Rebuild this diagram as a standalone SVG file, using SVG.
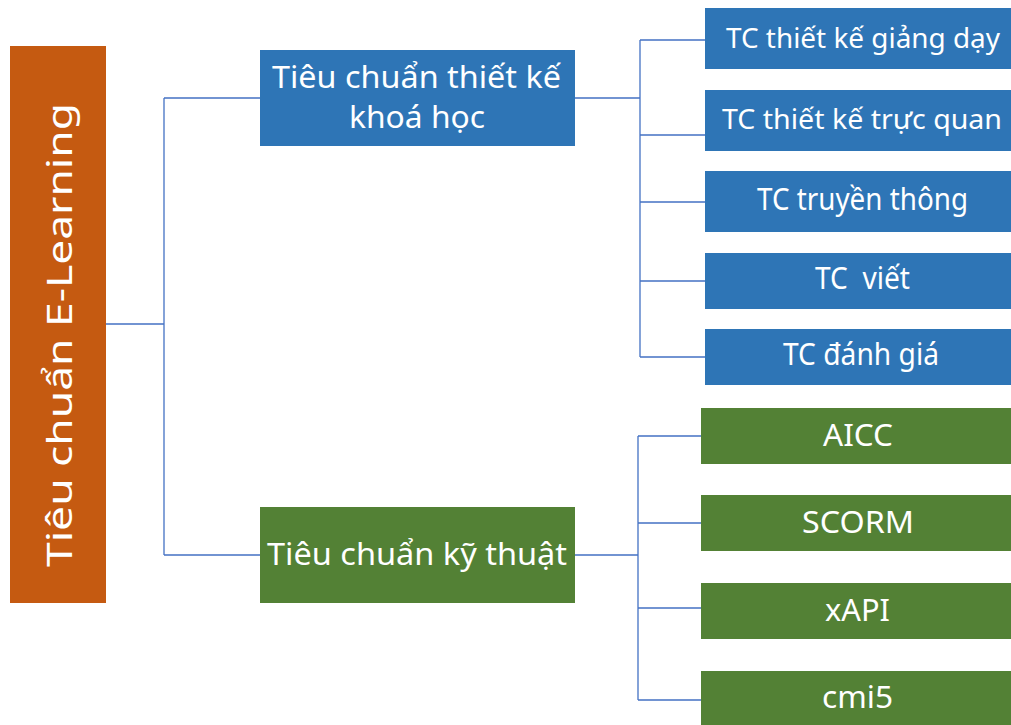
<svg xmlns="http://www.w3.org/2000/svg" width="1011" height="725" viewBox="0 0 1011 725">
<style>
.t{font-family:"Noto Sans","Open Sans","DejaVu Sans",sans-serif;font-size:30.5px;fill:#ffffff}
.s{font-size:27.5px}
.r{font-size:34px}
.blue{fill:#2E75B6}
.green{fill:#538135}
.orange{fill:#C55A11}
.conn{fill:none;stroke:#4472C4;stroke-width:1.3}
</style>
<rect x="0" y="0" width="1011" height="725" fill="#ffffff"/>
<g id="connectors">
<path class="conn" d="M106,324 H164 M164,98 V555 M164,98 H260 M164,555 H260"/>
<path class="conn" d="M575,98 H640 M640,40 V357 M640,40 H705 M640,135 H705 M640,202 H705 M640,281 H705 M640,357 H705"/>
<path class="conn" d="M575,555 H638 M638,436 V700 M638,436 H701 M638,523 H701 M638,608 H701 M638,700 H701"/>
</g>
<g id="root">
<rect class="orange" x="10" y="46" width="96" height="557"/>
<text class="t r" transform="translate(72,567) rotate(-90)" x="0" y="0" textLength="464" lengthAdjust="spacingAndGlyphs">Tiêu chuẩn E-Learning</text>
</g>
<g id="design">
<rect class="blue" x="260" y="50" width="315" height="96"/>
<text class="t" x="272" y="88" textLength="289" lengthAdjust="spacingAndGlyphs">Tiêu chuẩn thiết kế</text>
<text class="t" x="349" y="128" textLength="136" lengthAdjust="spacingAndGlyphs">khoá học</text>
</g>
<g id="technical">
<rect class="green" x="260" y="507" width="315" height="96"/>
<text class="t" x="267" y="565" textLength="300" lengthAdjust="spacingAndGlyphs">Tiêu chuẩn kỹ thuật</text>
</g>
<g id="tc1">
<rect class="blue" x="705" y="8" width="306" height="61"/>
<text class="t s" x="726" y="48" textLength="274" lengthAdjust="spacingAndGlyphs">TC thiết kế giảng dạy</text>
</g>
<g id="tc2">
<rect class="blue" x="705" y="90" width="306" height="61"/>
<text class="t s" x="722" y="129" textLength="280" lengthAdjust="spacingAndGlyphs">TC thiết kế trực quan</text>
</g>
<g id="tc3">
<rect class="blue" x="705" y="171" width="306" height="61"/>
<text class="t" x="757" y="210" textLength="211" lengthAdjust="spacingAndGlyphs">TC truyền thông</text>
</g>
<g id="tc4">
<rect class="blue" x="705" y="253" width="306" height="56"/>
<text class="t" x="815" y="289" textLength="95" lengthAdjust="spacingAndGlyphs" xml:space="preserve">TC  viết</text>
</g>
<g id="tc5">
<rect class="blue" x="705" y="329" width="306" height="56"/>
<text class="t" x="783" y="365" textLength="156" lengthAdjust="spacingAndGlyphs">TC đánh giá</text>
</g>
<g id="aicc">
<rect class="green" x="701" y="408" width="310" height="56"/>
<text class="t" x="823" y="446" textLength="70" lengthAdjust="spacingAndGlyphs">AICC</text>
</g>
<g id="scorm">
<rect class="green" x="701" y="495" width="310" height="56"/>
<text class="t" x="802" y="533" textLength="112" lengthAdjust="spacingAndGlyphs">SCORM</text>
</g>
<g id="xapi">
<rect class="green" x="701" y="583" width="310" height="56"/>
<text class="t" x="825" y="621" textLength="65" lengthAdjust="spacingAndGlyphs">xAPI</text>
</g>
<g id="cmi5">
<rect class="green" x="701" y="671" width="310" height="54"/>
<text class="t" x="822" y="708" textLength="71" lengthAdjust="spacingAndGlyphs">cmi5</text>
</g>
</svg>
